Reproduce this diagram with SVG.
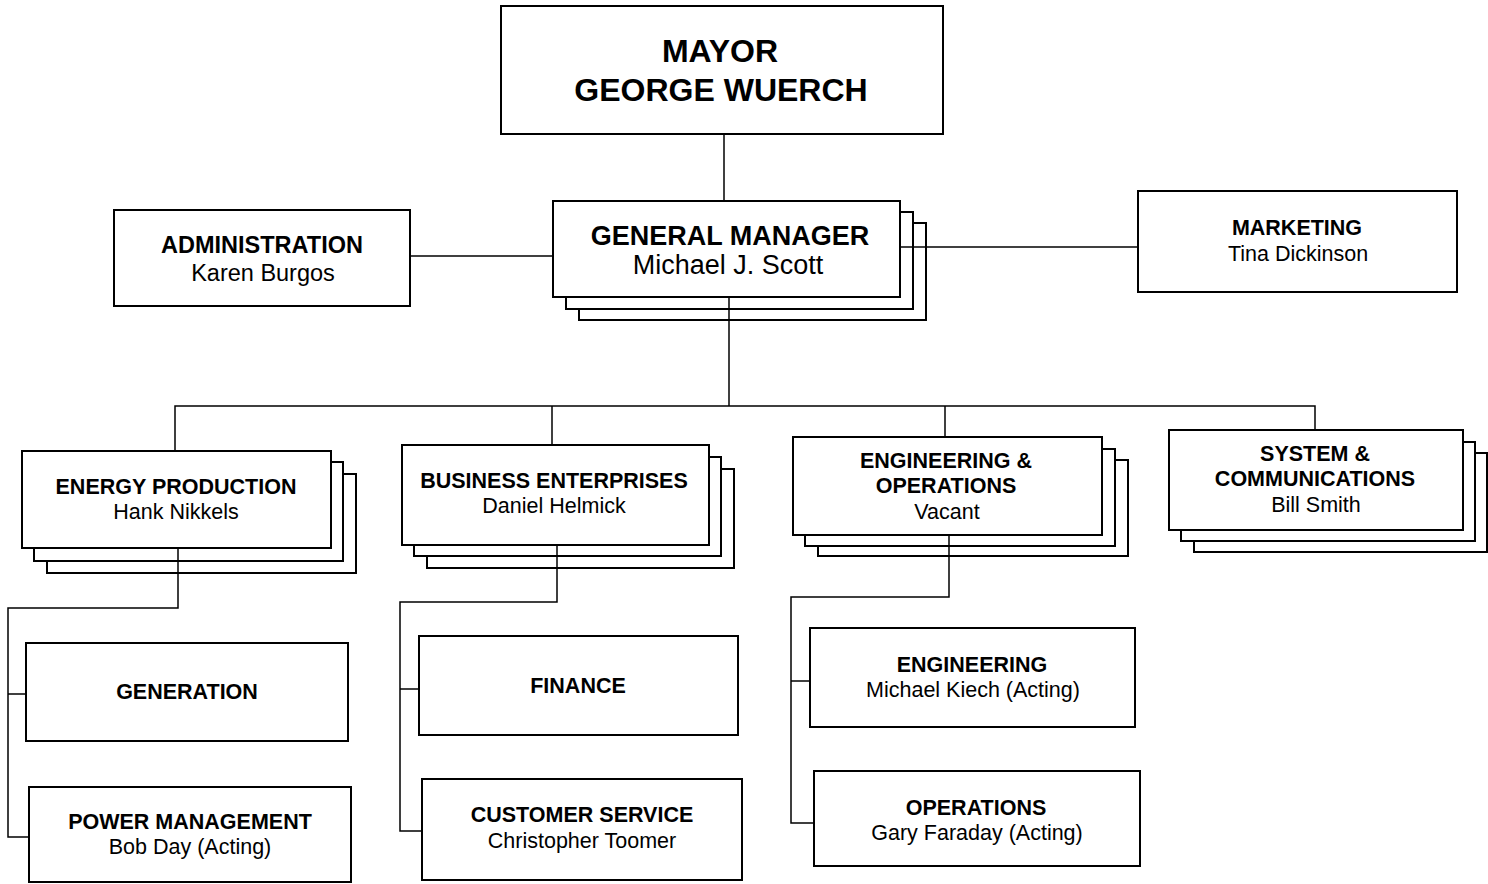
<svg xmlns="http://www.w3.org/2000/svg" width="1488" height="884" viewBox="0 0 1488 884">
<style>
.box{fill:#fff;stroke:#000;stroke-width:2}
.ln{fill:none;stroke:#000;stroke-width:1.5}
text{font-family:"Liberation Sans",Arial,sans-serif;fill:#000;text-anchor:middle}
.t{font-weight:bold;font-size:21.5px}
.n{font-size:21.5px}
</style>
<rect width="1488" height="884" fill="#fff"/>
<g id="mayor">
<rect class="box" x="501" y="6" width="442" height="128"/>
<text x="720" y="62" font-weight="bold" font-size="32">MAYOR</text>
<text x="721" y="101" font-weight="bold" font-size="32">GEORGE WUERCH</text>
</g>
<g id="gm">
<rect class="box" x="579" y="223" width="347" height="97"/>
<rect class="box" x="566" y="212" width="347" height="97"/>
<rect class="box" x="553" y="201" width="347" height="96"/>
<text x="730" y="245" font-weight="bold" font-size="27">GENERAL MANAGER</text>
<text x="728" y="274" font-size="27">Michael J. Scott</text>
</g>
<g id="administration">
<rect class="box" x="114" y="210" width="296" height="96"/>
<text x="262" y="253" font-weight="bold" font-size="23.5">ADMINISTRATION</text>
<text x="263" y="281" font-size="23.5">Karen Burgos</text>
</g>
<g id="marketing">
<rect class="box" x="1138" y="191" width="319" height="101"/>
<text x="1297" y="235" class="t">MARKETING</text>
<text x="1298" y="261" class="n">Tina Dickinson</text>
</g>
<g id="energy">
<rect class="box" x="47" y="474" width="309" height="99"/>
<rect class="box" x="34" y="462" width="309" height="99"/>
<rect class="box" x="22" y="451" width="309" height="97"/>
<text x="176" y="494" class="t">ENERGY PRODUCTION</text>
<text x="176" y="519" class="n">Hank Nikkels</text>
</g>
<g id="business">
<rect class="box" x="427" y="469" width="307" height="99"/>
<rect class="box" x="414" y="457" width="307" height="99"/>
<rect class="box" x="402" y="445" width="307" height="100"/>
<text x="554" y="488" class="t">BUSINESS ENTERPRISES</text>
<text x="554" y="513" class="n">Daniel Helmick</text>
</g>
<g id="engops">
<rect class="box" x="818" y="460" width="310" height="96"/>
<rect class="box" x="805" y="449" width="310" height="97"/>
<rect class="box" x="793" y="437" width="309" height="98"/>
<text x="946" y="468" class="t">ENGINEERING &amp;</text>
<text x="946" y="493" class="t">OPERATIONS</text>
<text x="947" y="519" class="n">Vacant</text>
</g>
<g id="system">
<rect class="box" x="1194" y="453" width="293" height="99"/>
<rect class="box" x="1181" y="442" width="294" height="99"/>
<rect class="box" x="1169" y="430" width="294" height="100"/>
<text x="1315" y="461" class="t">SYSTEM &amp;</text>
<text x="1315" y="486" class="t">COMMUNICATIONS</text>
<text x="1316" y="512" class="n">Bill Smith</text>
</g>
<g id="generation">
<rect class="box" x="26" y="643" width="322" height="98"/>
<text x="187" y="699" class="t">GENERATION</text>
</g>
<g id="power">
<rect class="box" x="29" y="787" width="322" height="95"/>
<text x="190" y="829" class="t">POWER MANAGEMENT</text>
<text x="190" y="854" class="n">Bob Day (Acting)</text>
</g>
<g id="finance">
<rect class="box" x="419" y="636" width="319" height="99"/>
<text x="578" y="693" class="t">FINANCE</text>
</g>
<g id="customer">
<rect class="box" x="422" y="779" width="320" height="101"/>
<text x="582" y="822" class="t">CUSTOMER SERVICE</text>
<text x="582" y="848" class="n">Christopher Toomer</text>
</g>
<g id="engineering">
<rect class="box" x="810" y="628" width="325" height="99"/>
<text x="972" y="672" class="t">ENGINEERING</text>
<text x="973" y="697" class="n">Michael Kiech (Acting)</text>
</g>
<g id="operations">
<rect class="box" x="814" y="771" width="326" height="95"/>
<text x="976" y="815" class="t">OPERATIONS</text>
<text x="977" y="840" class="n">Gary Faraday (Acting)</text>
</g>
<g id="connectors">
<path class="ln" d="M724 134V201"/>
<path class="ln" d="M410 256H553"/>
<path class="ln" d="M900 247H1138"/>
<path class="ln" d="M729 297V406"/>
<path class="ln" d="M175 451V406H1315V430"/>
<path class="ln" d="M552 406V445"/>
<path class="ln" d="M945 406V437"/>
<path class="ln" d="M178 548V608H8V837H29"/>
<path class="ln" d="M8 694H26"/>
<path class="ln" d="M557 545V602H400V831H422"/>
<path class="ln" d="M400 689H419"/>
<path class="ln" d="M949 535V597H791V823H814"/>
<path class="ln" d="M791 681H810"/>
</g>
</svg>
